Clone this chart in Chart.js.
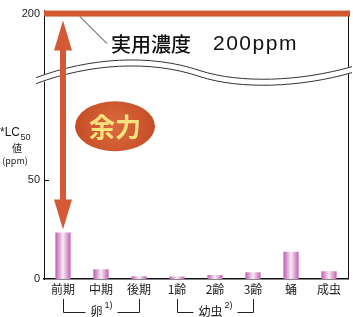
<!DOCTYPE html>
<html>
<head>
<meta charset="utf-8">
<script src="https://cdn.jsdelivr.net/npm/chart.js@4/dist/chart.umd.min.js"></script>
<style>
  html, body { margin: 0; padding: 0; background: #fff; }
</style>
</head>
<body>
<canvas id="lcChart" width="353" height="317"></canvas>
<script>
// Data
const stages = ['前期', '中期', '後期', '1齢', '2齢', '3齢', '蛹', '成虫'];
const lc50 = [23.5, 4.9, 1.4, 1.3, 2.0, 3.4, 13.7, 3.9];
const yTickValues = [0, 50, 200];
const practicalDose = 200;
const groupLabels = ['卵', '幼虫'];
const groupNotes = ['1)', '2)'];
const groupFrom = [0, 3];
const groupTo = [2, 5];

// broken axis: values above breakFrom are squeezed
const breakFrom = 100;
const breakRatio = 0.338;
function axisPos(v) {
  return v <= breakFrom ? v : breakFrom + (v - breakFrom) * breakRatio;
}

const jp = '"Noto Sans CJK JP", "Liberation Sans", sans-serif';
const latin = '"Liberation Sans", "Noto Sans CJK JP", sans-serif';
const orange = '#d2582f';
const textColor = '#1a1a1a';

// pink gradient for each bar, built from the x scale
function barFill(c) {
  if (c.type !== 'data') return '#d58ccb';
  const xs = c.chart.scales.x;
  const cx = xs ? xs.getPixelForValue(c.dataIndex) : NaN;
  if (!isFinite(cx)) return '#d58ccb';
  const g = c.chart.ctx.createLinearGradient(cx - 8, 0, cx + 8, 0);
  g.addColorStop(0, '#c052b0');
  g.addColorStop(0.5, '#f6ebf3');
  g.addColorStop(1, '#c257b3');
  return g;
}

function drawArrow(ctx, cx, yTop, yBot) {
  const head = 30, hw = 9, sw = 3;
  ctx.beginPath();
  ctx.moveTo(cx, yTop);
  ctx.lineTo(cx + hw, yTop + head);
  ctx.lineTo(cx + sw, yTop + head);
  ctx.lineTo(cx + sw, yBot - head);
  ctx.lineTo(cx + hw, yBot - head);
  ctx.lineTo(cx, yBot);
  ctx.lineTo(cx - hw, yBot - head);
  ctx.lineTo(cx - sw, yBot - head);
  ctx.lineTo(cx - sw, yTop + head);
  ctx.lineTo(cx - hw, yTop + head);
  ctx.closePath();
  ctx.fillStyle = '#d45a35';
  ctx.fill();
}

function wavePath(ctx, a, base, off) {
  const l = a.left;
  ctx.beginPath();
  ctx.moveTo(l - 8, base - 3 + off);
  ctx.bezierCurveTo(l + 46, base - 23 + off, l + 106, base - 27 + off, l + 156, base - 10 + off);
  ctx.bezierCurveTo(l + 196, base + 3 + off, l + 256, base + 1 + off, l + 308, base - 14 + off);
}

function drawBreak(ctx, a, base) {
  wavePath(ctx, a, base, 3);
  ctx.strokeStyle = '#fff';
  ctx.lineWidth = 7;
  ctx.stroke();
  ctx.strokeStyle = '#333';
  ctx.lineWidth = 1;
  wavePath(ctx, a, base, 0);
  ctx.stroke();
  wavePath(ctx, a, base, 6);
  ctx.stroke();
}

const decorPlugin = {
  id: 'decor',
  afterDraw(chart) {
    const { ctx } = chart;
    const a = chart.chartArea;
    const x = chart.scales.x;
    const y = chart.scales.y;
    ctx.save();

    // right frame line
    ctx.beginPath();
    ctx.moveTo(a.right + 0.5, a.top);
    ctx.lineTo(a.right + 0.5, a.bottom);
    ctx.strokeStyle = '#111';
    ctx.lineWidth = 1;
    ctx.stroke();

    // axis break (wavy double line)
    const base = y.getPixelForValue(breakFrom);
    drawBreak(ctx, a, base);

    // inward tick marks
    ctx.strokeStyle = '#111';
    ctx.lineWidth = 1;
    yTickValues.forEach(v => {
      if (v === 0 || v === practicalDose) return;
      const py = Math.round(y.getPixelForValue(axisPos(v))) + 0.5;
      ctx.beginPath();
      ctx.moveTo(a.left, py);
      ctx.lineTo(a.left + 5, py);
      ctx.stroke();
    });

    // practical concentration line
    const doseY = y.getPixelForValue(axisPos(practicalDose));
    ctx.fillStyle = orange;
    ctx.fillRect(a.left, doseY - 3, chart.width - a.left - 3, 6);

    // leader line and label
    ctx.beginPath();
    ctx.moveTo(a.left + 36, doseY + 3);
    ctx.lineTo(a.left + 63, doseY + 30);
    ctx.strokeStyle = '#333';
    ctx.stroke();
    ctx.fillStyle = '#111';
    ctx.textBaseline = 'middle';
    ctx.textAlign = 'left';
    ctx.font = '500 20px ' + jp;
    ctx.fillText('実用濃度', a.left + 67, doseY + 31);
    ctx.font = '21px ' + latin;
    ctx.letterSpacing = '1.5px';
    ctx.fillText('200ppm', a.left + 169, doseY + 31);
    ctx.letterSpacing = '0px';

    // double arrow from the dose line to the first bar
    const ax = x.getPixelForValue(0);
    const barTop = y.getPixelForValue(lc50[0]);
    drawArrow(ctx, ax, doseY + 7, barTop - 3);

    // "余力" ellipse
    const ex = ax + 52;
    const ey = y.getPixelForValue(77);
    const rg = ctx.createRadialGradient(ex, ey, 4, ex, ey, 42);
    rg.addColorStop(0, '#d9673c');
    rg.addColorStop(1, '#c44b25');
    ctx.beginPath();
    ctx.ellipse(ex, ey, 40, 25, 0, 0, Math.PI * 2);
    ctx.fillStyle = rg;
    ctx.fill();
    ctx.fillStyle = '#f7e27e';
    ctx.textAlign = 'center';
    ctx.font = 'bold 26px ' + jp;
    ctx.fillText('余力', ex, ey + 1);

    // y axis title: *LC50 値 (ppm)
    ctx.fillStyle = textColor;
    ctx.textAlign = 'left';
    ctx.textBaseline = 'alphabetic';
    ctx.font = '12px ' + latin;
    const lcText = '*LC';
    ctx.fillText(lcText, 0, 136);
    const lcW = ctx.measureText(lcText).width;
    ctx.font = '9px ' + latin;
    ctx.fillText('50', lcW + 0.5, 140);
    ctx.textAlign = 'center';
    ctx.textBaseline = 'middle';
    ctx.font = '10px ' + jp;
    ctx.fillText('値', 17, 148);
    ctx.font = '9px ' + jp;
    ctx.fillText('(ppm)', 15, 161);

    // group brackets under the category labels
    ctx.strokeStyle = '#222';
    ctx.lineWidth = 1;
    groupLabels.forEach((label, i) => {
      const xl = Math.round(x.getPixelForValue(groupFrom[i])) + 0.5;
      const xr = Math.round(x.getPixelForValue(groupTo[i])) + 0.5;
      const yTop = a.bottom + 20;
      const yLine = a.bottom + 33.5;
      const mid = (xl + xr) / 2;
      ctx.font = '12px ' + jp;
      const wl = ctx.measureText(label).width;
      ctx.font = '9px ' + latin;
      const wn = ctx.measureText(groupNotes[i]).width;
      const total = wl + wn + 2;
      const startX = mid - total / 2;
      ctx.beginPath();
      ctx.moveTo(xl, yTop);
      ctx.lineTo(xl, yLine);
      ctx.lineTo(startX - 5, yLine);
      ctx.moveTo(startX + total + 5, yLine);
      ctx.lineTo(xr, yLine);
      ctx.lineTo(xr, yTop);
      ctx.stroke();
      ctx.textAlign = 'left';
      ctx.font = '12px ' + jp;
      ctx.fillText(label, startX, yLine - 1);
      ctx.font = '9px ' + latin;
      ctx.fillText(groupNotes[i], startX + wl + 2, yLine - 7);
    });

    ctx.restore();
  }
};

const ctx = document.getElementById('lcChart').getContext('2d');
const lcChart = new Chart(ctx, {
  type: 'bar',
  data: {
    labels: stages,
    datasets: [{
      label: 'LC50',
      data: lc50,
      backgroundColor: barFill,
      borderWidth: 0,
      barPercentage: 0.4,
      categoryPercentage: 1
    }]
  },
  options: {
    responsive: false,
    devicePixelRatio: 1,
    animation: false,
    layout: { padding: { top: 3, right: 5, left: 0, bottom: 0 } },
    plugins: { legend: { display: false }, tooltip: { enabled: false } },
    scales: {
      x: {
        grid: { display: false, drawTicks: false },
        border: { display: true, color: '#111', width: 1.5 },
        ticks: {
          color: textColor,
          font: { family: jp, size: 12 },
          padding: 3,
          maxRotation: 0,
          autoSkip: false
        },
        afterFit: s => { s.height = 38; }
      },
      y: {
        min: 0,
        max: 135.3,
        grid: { display: false, drawTicks: false },
        border: { display: true, color: '#111', width: 1 },
        afterBuildTicks: s => {
          s.ticks = yTickValues.map(v => ({ value: axisPos(v) }));
        },
        ticks: {
          color: textColor,
          font: { family: latin, size: 11 },
          padding: 4,
          callback: (v, i) => String(yTickValues[i])
        },
        afterFit: s => { s.width = 44; }
      }
    }
  },
  plugins: [decorPlugin]
});
</script>
</body>
</html>
